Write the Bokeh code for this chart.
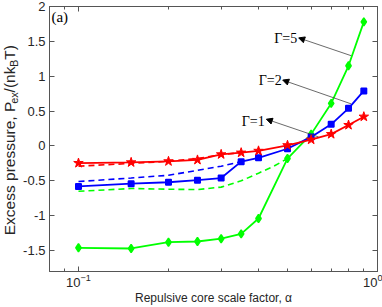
import math
from bokeh.plotting import figure
from bokeh.layouts import row
from bokeh.models import (LogAxis, LinearAxis, FixedTicker, Label, Arrow,
                          NormalHead, Range1d, CustomJSTickFormatter)
from bokeh.core.properties import value
from bokeh.embed import file_html
from bokeh.resources import INLINE

# ---- data ----
alpha = [0.1, 0.15, 0.2, 0.25, 0.3, 0.35, 0.4, 0.5, 0.6, 0.7, 0.8, 0.9]
p_gamma5 = [-1.46, -1.47, -1.38, -1.37, -1.33, -1.26, -1.04, -0.18, 0.17, 0.61, 1.15, 1.78]
p_gamma2 = [-0.58, -0.54, -0.52, -0.49, -0.46, -0.225, -0.17, -0.04, 0.13, 0.31, 0.54, 0.79]
p_gamma1 = [-0.245, -0.235, -0.22, -0.20, -0.12, -0.096, -0.07, 0.01, 0.09, 0.17, 0.30, 0.42]

alpha_d1 = [0.1, 0.15, 0.2, 0.25, 0.3, 0.35]
dash_gamma1 = [-0.29, -0.25, -0.22, -0.18, -0.125, -0.096]
alpha_d2 = [0.1, 0.15, 0.2, 0.25, 0.3, 0.35]
dash_gamma2 = [-0.51, -0.46, -0.42, -0.35, -0.29, -0.225]
alpha_d5 = [0.1, 0.15, 0.2, 0.25, 0.3, 0.35, 0.4, 0.45, 0.5]
dash_gamma5 = [-0.65, -0.61, -0.62, -0.625, -0.59, -0.50, -0.39, -0.29, -0.18]

y_ticks = [-1.5, -1, -0.5, 0, 0.5, 1, 1.5, 2]
x_major = [0.1, 1.0]
x_minor = [0.09, 0.2, 0.3, 0.4, 0.5, 0.6, 0.7, 0.8, 0.9]

ylabel_parts = ["Excess pressure, P", "ex", "/(nk", "B", "T)"]
ylabel_is_sub = [False, True, False, True, False]

GREEN = "#00ff00"
BLUE = "#0000ff"
RED = "#ff0000"
AX = "#555555"
TXT = "#262626"

H = 307
LW = 20  # width of the y-label strip

p = figure(width=382 - LW, height=H, x_axis_type="log",
           x_range=Range1d(0.08, 1.0), y_range=Range1d(-1.8, 2.0),
           output_backend="svg", toolbar_location=None,
           min_border_left=28, min_border_right=5,
           min_border_top=6, min_border_bottom=36)
p.xgrid.visible = False
p.ygrid.visible = False
p.outline_line_color = AX
p.background_fill_color = "white"

xa = p.xaxis[0]
xa.ticker = FixedTicker(ticks=x_major, minor_ticks=x_minor)
ya = p.yaxis[0]
ya.ticker = FixedTicker(ticks=y_ticks)
ya.formatter = CustomJSTickFormatter(
    code="return String(Math.round(tick*10)/10);")

for ax in (xa, ya):
    ax.axis_line_color = AX
    ax.major_tick_line_color = AX
    ax.minor_tick_line_color = AX
    ax.major_tick_in = 5
    ax.major_tick_out = 0
    ax.minor_tick_in = 3
    ax.minor_tick_out = 0
    ax.major_label_text_font = "Liberation Sans"
    ax.major_label_text_font_size = "13px"
    ax.major_label_text_color = TXT
ya.minor_tick_line_color = None
ya.major_label_standoff = 4
xa.major_label_standoff = 2
xa.axis_label = "Repulsive core scale factor, α"
xa.axis_label_text_font = "Liberation Sans"
xa.axis_label_text_font_size = "12px"
xa.axis_label_text_font_style = "normal"
xa.axis_label_text_color = TXT
xa.axis_label_standoff = 1

# mirrored axes (ticks only)
blank = CustomJSTickFormatter(code="return '';")
top = LogAxis(ticker=FixedTicker(ticks=x_major, minor_ticks=x_minor),
              formatter=blank)
right = LinearAxis(ticker=FixedTicker(ticks=y_ticks), formatter=blank)
for ax in (top, right):
    ax.axis_line_color = AX
    ax.major_tick_line_color = AX
    ax.minor_tick_line_color = AX
    ax.major_tick_in = 5
    ax.major_tick_out = 0
    ax.minor_tick_in = 3
    ax.minor_tick_out = 0
    ax.major_label_text_font_size = "1px"
    ax.major_label_standoff = 0
right.minor_tick_line_color = None
p.add_layout(top, "above")
p.add_layout(right, "right")

# dashed curves
p.line(alpha_d5, dash_gamma5, line_color=GREEN, line_width=1.6, line_dash="6 4")
p.line(alpha_d2, dash_gamma2, line_color=BLUE, line_width=1.6, line_dash="6 4")
p.line(alpha_d1, dash_gamma1, line_color=RED, line_width=1.6, line_dash="6 4")

# solid curves with markers
p.line(alpha, p_gamma5, line_color=GREEN, line_width=1.8)
p.scatter(alpha, p_gamma5, marker="diamond", size=8, line_color=GREEN,
          fill_color=GREEN, line_width=1.5)
p.line(alpha, p_gamma2, line_color=BLUE, line_width=1.8)
p.scatter(alpha, p_gamma2, marker="square", size=5.5, line_color=BLUE,
          fill_color=BLUE, line_width=1.5)
p.line(alpha, p_gamma1, line_color=RED, line_width=1.8)
p.scatter(alpha, p_gamma1, marker="star", size=10, line_color=RED,
          fill_color=RED, line_width=1)

# annotations
ann = [("Γ=5", 0.539, 1.547, 0.816, 1.295, 0.545, 1.55),
       ("Γ=2", 0.478, 0.935, 0.816, 0.604, 0.482, 0.945),
       ("Γ=1", 0.4195, 0.353, 0.635, 0.13, 0.425, 0.384)]
for txt, tx, ty, xs, ys, xe, ye in ann:
    p.add_layout(Arrow(end=NormalHead(size=6, fill_color="black", line_color="black"),
                       x_start=xs, y_start=ys, x_end=xe, y_end=ye,
                       line_color="#444444", line_width=0.8))
    p.add_layout(Label(x=tx, y=ty, text=txt, text_font="Liberation Serif",
                       text_font_size="14px", text_align="right",
                       text_baseline="alphabetic", text_color="black"))

p.add_layout(Label(x=0.0812, y=1.97, text="(a)", text_font="Liberation Serif",
                   text_font_size="15px", text_align="left", text_baseline="top",
                   text_color="black"))

# ---- y-axis label strip (rotated text pieces with subscripts) ----
q = figure(width=LW, height=H, x_range=Range1d(0, LW), y_range=Range1d(0, H),
           output_backend="svg", toolbar_location=None,
           min_border=0, min_border_left=0, min_border_right=0,
           min_border_top=0, min_border_bottom=0)
q.axis.visible = False
q.grid.visible = False
q.outline_line_color = None

BIG, SMALL, K = 15.5, 11.0, 1.14
em = {"Excess pressure, P": 8.614, "ex": 1.056, "/(nk": 1.667, "B": 0.667, "T)": 0.944}
pos = H - 265.0
for t, sub in zip(ylabel_parts, ylabel_is_sub):
    fs = SMALL if sub else BIG
    q.text(x=[13.5 if sub else 9.0], y=[pos], text=[t], angle=math.pi / 2,
           text_font=value("Liberation Sans"), text_font_size=value(f"{fs}px"),
           text_align="left", text_baseline="middle", text_color=TXT)
    pos += em[t] * fs * K

layout = row(q, p, spacing=0)
open("out.html", "w").write(file_html(layout, INLINE))
